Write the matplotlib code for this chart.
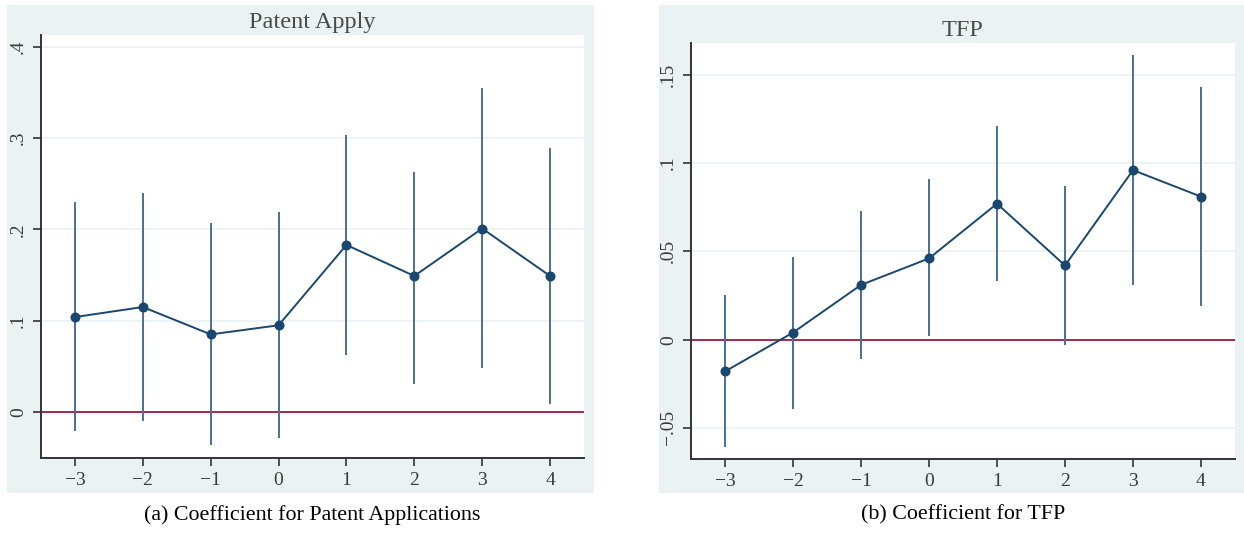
import numpy as np
import matplotlib
matplotlib.use("Agg")
import matplotlib.pyplot as plt
from matplotlib.patches import Rectangle

# event-study coefficients
periods = [-3, -2, -1, 0, 1, 2, 3, 4]
period_labels = ["\u22123", "\u22122", "\u22121", "0", "1", "2", "3", "4"]

patent_coef = [0.104, 0.115, 0.085, 0.095, 0.183, 0.149, 0.201, 0.149]
patent_lo = [-0.021, -0.010, -0.036, -0.028, 0.062, 0.031, 0.048, 0.009]
patent_hi = [0.230, 0.240, 0.207, 0.219, 0.303, 0.263, 0.355, 0.289]
patent_ticks = [0, 0.1, 0.2, 0.3, 0.4]
patent_ticklabels = ["0", ".1", ".2", ".3", ".4"]

tfp_coef = [-0.018, 0.004, 0.031, 0.046, 0.077, 0.042, 0.096, 0.081]
tfp_lo = [-0.061, -0.039, -0.011, 0.002, 0.033, -0.003, 0.031, 0.019]
tfp_hi = [0.025, 0.047, 0.073, 0.091, 0.121, 0.087, 0.161, 0.143]
tfp_ticks = [-0.05, 0, 0.05, 0.1, 0.15]
tfp_ticklabels = ["\u2212.05", "0", ".05", ".1", ".15"]

W, H = 1244, 539
BG = "#eaf2f3"
NAVY = "#1a476f"
CI = "#4f6f8f"
ZERO = "#a8284f"
AX = "#333333"
TXT = "#3a3a3a"

fig = plt.figure(figsize=(W / 100, H / 100), dpi=100)
fig.patch.set_facecolor("white")


def box(x0, y0, x1, y1):
    # pixel box (top-left origin) -> figure fraction
    return [x0 / W, 1 - y1 / H, (x1 - x0) / W, (y1 - y0) / H]


def panel(outer, inner, coef, lo, hi, ylim, ticks, ticklabels, title, caption):
    ox = box(*outer)
    fig.patches.append(Rectangle((ox[0], ox[1]), ox[2], ox[3], transform=fig.transFigure,
                                 facecolor=BG, edgecolor="none", zorder=-5))
    ax = fig.add_axes(box(*inner))
    ax.set_facecolor("white")
    ax.set_xlim(-3.5, 4.5)
    ax.set_ylim(*ylim)

    for t in ticks:
        ax.axhline(t, color=BG, lw=1.2, zorder=0)
    ax.axhline(0, color=ZERO, lw=1.4, zorder=1)

    ax.vlines(periods, lo, hi, color=CI, lw=1.4, zorder=2)
    ax.plot(periods, coef, color=NAVY, lw=1.4, marker="o", ms=6.2, zorder=3)

    for s in ["top", "right"]:
        ax.spines[s].set_visible(False)
    for s in ["left", "bottom"]:
        ax.spines[s].set_color(AX)
        ax.spines[s].set_linewidth(1.4)

    ax.set_xticks(periods)
    ax.set_xticklabels(period_labels, fontfamily="Liberation Serif",
                       fontsize=14, color=TXT)
    ax.set_yticks(ticks)
    ax.set_yticklabels(ticklabels, fontfamily="Liberation Serif", fontsize=14,
                       color=TXT, rotation=90, va="center")
    ax.tick_params(axis="both", length=6, width=1.2, color=AX, pad=4)

    ax.set_title(title, fontfamily="Liberation Serif", fontsize=17.5, color="#4a4a4a", pad=5)

    cx = (inner[0] + inner[2]) / 2
    fig.text(cx / W, 1 - 515 / H, caption, ha="center", va="center",
             fontfamily="Liberation Serif", fontsize=15.8, color="black")
    return ax


panel((7, 5, 594, 493), (41, 35, 584, 458), patent_coef, patent_lo, patent_hi,
      (-0.0504, 0.413), patent_ticks, patent_ticklabels, "Patent Apply",
      "(a) Coefficient for Patent Applications")
panel((659, 5, 1244, 493), (691, 43, 1235, 459), tfp_coef, tfp_lo, tfp_hi,
      (-0.0676, 0.168), tfp_ticks, tfp_ticklabels, "TFP",
      "(b) Coefficient for TFP")

fig.savefig("out.png", dpi=100)
